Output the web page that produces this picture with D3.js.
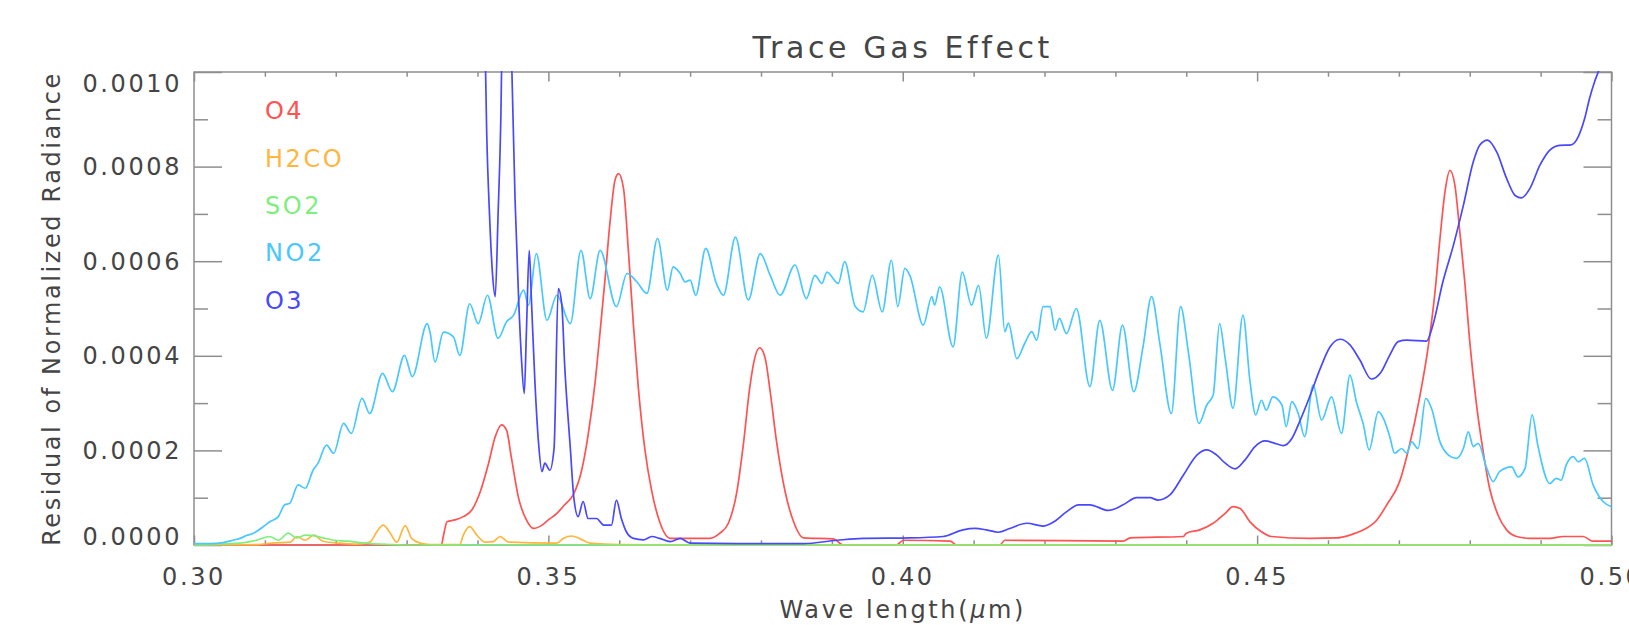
<!DOCTYPE html>
<html lang="en">
<head>
<meta charset="UTF-8">
<title>Trace Gas Effect</title>
<script src="https://cdn.jsdelivr.net/npm/d3@7"></script>
<style>
  html, body { margin: 0; padding: 0; background: #fff; }
  svg text { font-family: "DejaVu Sans", sans-serif; fill: #454545; }
</style>
</head>
<body>
<div id="chart"></div>
<script>
    // residual values are stored in units of 1e-4, wavelength in micrometres
    var xTicks = [0.30, 0.35, 0.40, 0.45, 0.50];
    var xTickLabels = ["0.30", "0.35", "0.40", "0.45", "0.50"];
    var yTicks = [0, 2, 4, 6, 8, 10];
    var yTickLabels = ["0.0000", "0.0002", "0.0004", "0.0006", "0.0008", "0.0010"];

    var gasNames = ["O4", "H2CO", "SO2", "NO2", "O3"];
    var gasColors = ["#ff5252", "#ffb63e", "#7def7d", "#48c8ff", "#4848ff"];

    var o4 = [
        [0.3000, 0], [0.3349, 0], [0.3352, 0.2], [0.3357, 0.49], [0.3368, 0.53], [0.3380, 0.6],
        [0.3392, 0.74], [0.3404, 1.13], [0.3415, 1.69], [0.3425, 2.29], [0.3434, 2.54], [0.3441, 2.43],
        [0.3448, 1.83], [0.3458, 0.99], [0.3469, 0.53], [0.3479, 0.35], [0.3491, 0.42], [0.3500, 0.53],
        [0.3512, 0.67], [0.3523, 0.85], [0.3535, 1.06], [0.3547, 1.58], [0.3556, 2.32], [0.3566, 3.45],
        [0.3573, 4.51], [0.3580, 5.63], [0.3587, 6.83], [0.3594, 7.71], [0.3599, 7.85], [0.3606, 7.54],
        [0.3613, 6.2], [0.3620, 4.65], [0.3627, 3.31], [0.3636, 2.04], [0.3646, 1.13], [0.3657, 0.49],
        [0.3672, 0.14], [0.3728, 0.14], [0.3742, 0.25], [0.3754, 0.46], [0.3766, 1.13], [0.3775, 2.11],
        [0.3784, 3.31], [0.3791, 3.94], [0.3798, 4.17], [0.3806, 3.94], [0.3813, 3.24], [0.3822, 2.18],
        [0.3834, 1.13], [0.3846, 0.49], [0.3860, 0.15], [0.3902, 0.13], [0.3916, 0], [0.3991, 0],
        [0.4001, 0.1], [0.4067, 0.08], [0.4076, 0], [0.4137, 0], [0.4144, 0.1], [0.4311, 0.08],
        [0.4321, 0.15], [0.4396, 0.18], [0.4400, 0.25], [0.4419, 0.32], [0.4438, 0.46], [0.4455, 0.67],
        [0.4466, 0.81], [0.4476, 0.77], [0.4490, 0.49], [0.4506, 0.28], [0.4520, 0.18], [0.4574, 0.14],
        [0.4612, 0.15], [0.4631, 0.21], [0.4650, 0.32], [0.4669, 0.53], [0.4683, 0.85], [0.4701, 1.34],
        [0.4715, 2.11], [0.4729, 3.1], [0.4741, 4.15], [0.4751, 5.35], [0.4758, 6.48], [0.4765, 7.46],
        [0.4772, 7.92], [0.4779, 7.61], [0.4786, 6.62], [0.4793, 5.56], [0.4800, 4.30], [0.4809, 3.03],
        [0.4819, 1.97], [0.4828, 1.2], [0.4840, 0.63], [0.4852, 0.32], [0.4866, 0.18], [0.4885, 0.14],
        [0.4913, 0.14], [0.4932, 0.18], [0.4960, 0.18], [0.4974, 0.08], [0.5000, 0.08]
    ];

    var h2co = [
        [0.3000, 0], [0.3090, 0.01], [0.3110, 0.04], [0.3136, 0.06], [0.3145, 0.18], [0.3157, 0.1],
        [0.3169, 0.21], [0.3182, 0.08], [0.3206, 0.04], [0.3230, 0.02], [0.3248, 0.06], [0.3258, 0.28],
        [0.3267, 0.42], [0.3277, 0.25], [0.3286, 0.06], [0.3298, 0.41], [0.3307, 0.14], [0.3319, 0.04],
        [0.3333, 0.01], [0.3375, 0.01], [0.3380, 0.21], [0.3389, 0.39], [0.3399, 0.21], [0.3411, 0.06],
        [0.3422, 0.07], [0.3432, 0.18], [0.3444, 0.06], [0.3512, 0.04], [0.3521, 0.14], [0.3533, 0.19],
        [0.3545, 0.13], [0.3559, 0.04], [0.3600, 0.01], [0.3700, 0], [0.5000, 0]
    ];

    var so2 = [
        [0.3000, 0], [0.3065, 0.04], [0.3088, 0.1], [0.3107, 0.18], [0.3119, 0.1], [0.3133, 0.25],
        [0.3145, 0.15], [0.3157, 0.21], [0.3169, 0.2], [0.3182, 0.15], [0.3197, 0.1], [0.3216, 0.08],
        [0.3239, 0.04], [0.3277, 0.01], [0.3300, 0], [0.5000, 0]
    ];

    var no2 = [
        [0.3000, 0.03], [0.3023, 0.03], [0.3041, 0.05], [0.3055, 0.1], [0.3065, 0.14], [0.3074, 0.2],
        [0.3084, 0.25], [0.3098, 0.39], [0.3107, 0.49], [0.3119, 0.6], [0.3128, 0.85], [0.3135, 0.88],
        [0.3147, 1.27], [0.3157, 1.2], [0.3168, 1.58], [0.3175, 1.73], [0.3187, 2.11], [0.3197, 1.94],
        [0.3211, 2.57], [0.3222, 2.36], [0.3237, 3.1], [0.3248, 2.78], [0.3266, 3.63], [0.3280, 3.24],
        [0.3297, 4.01], [0.3308, 3.56], [0.3329, 4.68], [0.3333, 4.5], [0.3340, 3.87], [0.3352, 4.5],
        [0.3366, 4.4], [0.3375, 4.01], [0.3389, 5.1], [0.3401, 4.68], [0.3414, 5.28], [0.3429, 4.37],
        [0.3441, 4.72], [0.3451, 4.86], [0.3465, 5.39], [0.3472, 5.07], [0.3483, 6.16], [0.3498, 4.75],
        [0.3512, 5.28], [0.3531, 4.68], [0.3546, 6.23], [0.3559, 5.21], [0.3573, 6.23], [0.3596, 5.04],
        [0.3611, 5.74], [0.3625, 5.56], [0.3639, 5.32], [0.3654, 6.48], [0.3668, 5.39], [0.3676, 5.88],
        [0.3686, 5.74], [0.3693, 5.56], [0.3700, 5.6], [0.3708, 5.28], [0.3722, 6.27], [0.3737, 5.53],
        [0.3747, 5.28], [0.3764, 6.51], [0.3782, 5.18], [0.3799, 6.16], [0.3813, 5.7], [0.3827, 5.28],
        [0.3848, 5.92], [0.3864, 5.21], [0.3876, 5.7], [0.3886, 5.53], [0.3893, 5.77], [0.3909, 5.53],
        [0.3918, 5.99], [0.3933, 5.04], [0.3944, 4.93], [0.3957, 5.7], [0.3971, 4.93], [0.3984, 6.02],
        [0.3993, 5.04], [0.4003, 5.85], [0.4010, 5.7], [0.4029, 4.65], [0.4041, 5.25], [0.4045, 5.07],
        [0.4052, 5.46], [0.4071, 4.19], [0.4084, 5.77], [0.4097, 5.07], [0.4107, 5.49], [0.4118, 4.37],
        [0.4135, 6.13], [0.4144, 4.51], [0.4149, 4.69], [0.4161, 3.94], [0.4172, 4.26], [0.4182, 4.51],
        [0.4189, 4.33], [0.4198, 5.04], [0.4208, 5.04], [0.4215, 4.54], [0.4221, 4.79], [0.4231, 4.47],
        [0.4245, 5.0], [0.4264, 3.35], [0.4278, 4.75], [0.4296, 3.27], [0.4310, 4.65], [0.4326, 3.24],
        [0.4339, 4.19], [0.4351, 5.25], [0.4363, 4.23], [0.4379, 2.78], [0.4392, 5.04], [0.4403, 4.08],
        [0.4418, 2.57], [0.4429, 2.96], [0.4438, 3.17], [0.4447, 4.68], [0.4455, 3.94], [0.4466, 2.89],
        [0.4480, 4.86], [0.4490, 3.45], [0.4498, 2.75], [0.4506, 3.06], [0.4513, 2.85], [0.4522, 3.13],
        [0.4535, 2.96], [0.4541, 2.5], [0.4549, 3.03], [0.4558, 2.78], [0.4567, 2.29], [0.4579, 3.38],
        [0.4591, 2.64], [0.4605, 3.13], [0.4619, 2.36], [0.4631, 3.59], [0.4640, 3.03], [0.4650, 2.54],
        [0.4658, 2.01], [0.4671, 2.82], [0.4678, 2.68], [0.4687, 2.3], [0.4694, 1.94], [0.4704, 2.04],
        [0.4711, 1.94], [0.4718, 2.18], [0.4727, 2.04], [0.4738, 3.1], [0.4746, 2.89], [0.4758, 2.18],
        [0.4770, 1.9], [0.4781, 1.83], [0.4791, 2.04], [0.4798, 2.39], [0.4805, 2.08], [0.4812, 2.15],
        [0.4824, 1.62], [0.4833, 1.34], [0.4842, 1.55], [0.4859, 1.65], [0.4868, 1.44], [0.4878, 1.62],
        [0.4888, 2.75], [0.4896, 2.11], [0.4913, 1.3], [0.4922, 1.41], [0.4929, 1.37], [0.4936, 1.69],
        [0.4946, 1.87], [0.4953, 1.76], [0.4962, 1.83], [0.4974, 1.27], [0.4988, 0.92], [0.5000, 0.81]
    ];

    // O3 is far above the plotted range below 0.341 um and gets clipped
    var o3 = [
        [0.3000, 30], [0.3400, 30], [0.3409, 12], [0.3413, 8.7], [0.3417, 6.97], [0.3421, 5.77],
        [0.3425, 5.25], [0.3429, 6.97], [0.3433, 9.08], [0.3436, 12], [0.3442, 14], [0.3447, 11],
        [0.3453, 7.3], [0.3458, 5.21], [0.3462, 3.94], [0.3466, 3.2], [0.3469, 4.5], [0.3473, 6.23],
        [0.3476, 5.21], [0.3481, 3.45], [0.3486, 2.18], [0.3491, 1.55], [0.3495, 1.73], [0.3502, 1.58],
        [0.3508, 2.04], [0.3514, 5.42], [0.3519, 5.07], [0.3523, 3.8], [0.3531, 2.04], [0.3536, 0.99],
        [0.3542, 0.6], [0.3549, 0.92], [0.3556, 0.56], [0.3568, 0.56], [0.3578, 0.42], [0.3589, 0.42],
        [0.3596, 0.95], [0.3603, 0.56], [0.3610, 0.28], [0.3620, 0.14], [0.3634, 0.11], [0.3646, 0.18],
        [0.3657, 0.14], [0.3672, 0.07], [0.3686, 0.14], [0.3700, 0.04], [0.3766, 0.03], [0.3860, 0.03],
        [0.3907, 0.1], [0.3944, 0.14], [0.4010, 0.15], [0.4057, 0.18], [0.4085, 0.32], [0.4102, 0.35],
        [0.4118, 0.32], [0.4135, 0.27], [0.4151, 0.35], [0.4175, 0.46], [0.4198, 0.4], [0.4212, 0.48],
        [0.4231, 0.7], [0.4248, 0.85], [0.4264, 0.85], [0.4290, 0.73], [0.4311, 0.85], [0.4330, 1.0],
        [0.4349, 1.0], [0.4360, 0.95], [0.4377, 1.06], [0.4396, 1.48], [0.4415, 1.9], [0.4429, 2.01],
        [0.4443, 1.9], [0.4455, 1.73], [0.4469, 1.61], [0.4483, 1.8], [0.4497, 2.08], [0.4511, 2.2],
        [0.4525, 2.15], [0.4537, 2.1], [0.4549, 2.25], [0.4560, 2.61], [0.4574, 3.13], [0.4589, 3.73],
        [0.4603, 4.19], [0.4617, 4.35], [0.4631, 4.23], [0.4645, 3.91], [0.4661, 3.51], [0.4675, 3.66],
        [0.4687, 4.01], [0.4699, 4.3], [0.4711, 4.33], [0.4739, 4.31], [0.4748, 4.65], [0.4762, 5.56],
        [0.4777, 6.34], [0.4791, 7.18], [0.4805, 8.1], [0.4814, 8.45], [0.4825, 8.56], [0.4838, 8.31],
        [0.4852, 7.75], [0.4864, 7.39], [0.4873, 7.34], [0.4885, 7.54], [0.4899, 8.03], [0.4913, 8.35],
        [0.4927, 8.45], [0.4943, 8.46], [0.4953, 8.63], [0.4962, 9.01], [0.4969, 9.44], [0.4976, 9.79],
        [0.4983, 10.07], [0.5000, 11]
    ];

    var series = [o4, h2co, so2, no2, o3];

    // -------- LAYOUT --------
    var svgWidth = 1629, svgHeight = 625;
    var plotLeft = 194, plotRight = 1611.5, plotTop = 72, plotBottom = 545;

    var svg = d3.select("#chart")
        .append("svg")
        .attr("width", svgWidth)
        .attr("height", svgHeight);

    var x = d3.scaleLinear()
        .domain([0.30, 0.50])
        .range([plotLeft, plotRight]);
    var y = d3.scaleLinear()
        .domain([0, 10])
        .range([plotBottom, plotTop]);

    // clip a hair outside the box so lines sitting on zero stay visible
    svg.append("defs").append("clipPath")
        .attr("id", "plot-clip")
        .append("rect")
        .attr("x", plotLeft)
        .attr("y", plotTop - 1)
        .attr("width", plotRight - plotLeft)
        .attr("height", plotBottom - plotTop + 2);

    // -------- AXES (IDL style box, ticks inside) --------
    var axisColor = "#8e8e8e";
    var minorX = d3.range(0.30, 0.5001, 0.01).filter(function (v) {
        return Math.abs(Math.round(v * 20) - v * 20) > 1e-6;
    });
    var minorY = [1, 3, 5, 7, 9];

    function styleAxis(g) {
        g.select(".domain").remove();
        g.selectAll(".tick line").attr("stroke", axisColor).attr("stroke-width", 1.5);
        g.selectAll(".tick text").remove();
    }

    svg.append("rect")
        .attr("x", plotLeft)
        .attr("y", plotTop)
        .attr("width", plotRight - plotLeft)
        .attr("height", plotBottom - plotTop)
        .attr("fill", "none")
        .attr("stroke", axisColor)
        .attr("stroke-width", 1.5);

    svg.append("g").attr("transform", "translate(0," + plotBottom + ")")
        .call(d3.axisTop(x).tickValues(xTicks).tickSize(9.5)).call(styleAxis);
    svg.append("g").attr("transform", "translate(0," + plotBottom + ")")
        .call(d3.axisTop(x).tickValues(minorX).tickSize(4.7)).call(styleAxis);
    svg.append("g").attr("transform", "translate(0," + plotTop + ")")
        .call(d3.axisBottom(x).tickValues(xTicks).tickSize(9.5)).call(styleAxis);
    svg.append("g").attr("transform", "translate(0," + plotTop + ")")
        .call(d3.axisBottom(x).tickValues(minorX).tickSize(4.7)).call(styleAxis);

    svg.append("g").attr("transform", "translate(" + plotLeft + ",0)")
        .call(d3.axisRight(y).tickValues(yTicks).tickSize(28)).call(styleAxis);
    svg.append("g").attr("transform", "translate(" + plotLeft + ",0)")
        .call(d3.axisRight(y).tickValues(minorY).tickSize(14)).call(styleAxis);
    svg.append("g").attr("transform", "translate(" + plotRight + ",0)")
        .call(d3.axisLeft(y).tickValues(yTicks).tickSize(28)).call(styleAxis);
    svg.append("g").attr("transform", "translate(" + plotRight + ",0)")
        .call(d3.axisLeft(y).tickValues(minorY).tickSize(14)).call(styleAxis);

    // -------- CURVES (over the axes, like oplot) --------
    var line = d3.line()
        .x(function (d) { return x(d[0]); })
        .y(function (d) { return y(d[1]); })
        .curve(d3.curveMonotoneX);

    svg.append("g")
        .attr("clip-path", "url(#plot-clip)")
        .selectAll("path")
        .data(series)
        .enter()
        .append("path")
        .attr("d", line)
        .attr("fill", "none")
        .attr("stroke", function (d, i) { return gasColors[i]; })
        .attr("stroke-width", 1.7)
        .attr("stroke-linejoin", "round");

    // -------- TICK LABELS --------
    svg.selectAll(".xlabel")
        .data(xTicks)
        .enter()
        .append("text")
        .attr("class", "xlabel")
        .attr("x", function (d) { return x(d); })
        .attr("y", 585)
        .attr("text-anchor", "middle")
        .attr("font-size", "24px")
        .attr("letter-spacing", "2.6px")
        .text(function (d, i) { return xTickLabels[i]; });

    svg.selectAll(".ylabel")
        .data(yTicks)
        .enter()
        .append("text")
        .attr("class", "ylabel")
        .attr("x", 182)
        .attr("y", function (d) {
            // end labels are pulled inside the box
            var c = y(d);
            if (d === 10) c += 11;
            if (d === 0) c -= 9;
            return c + 8.5;
        })
        .attr("text-anchor", "end")
        .attr("font-size", "24px")
        .attr("letter-spacing", "2.6px")
        .text(function (d, i) { return yTickLabels[i]; });

    // -------- TITLES --------
    svg.append("text")
        .attr("x", (plotLeft + plotRight) / 2)
        .attr("y", 58)
        .attr("text-anchor", "middle")
        .attr("font-size", "30px")
        .attr("letter-spacing", "3.6px")
        .text("Trace Gas Effect");

    var xTitle = svg.append("text")
        .attr("x", (plotLeft + plotRight) / 2)
        .attr("y", 618)
        .attr("text-anchor", "middle")
        .attr("font-size", "24px")
        .attr("letter-spacing", "2.6px");
    xTitle.append("tspan").text("Wave length(");
    xTitle.append("tspan").attr("font-style", "italic").text("\u03bc");
    xTitle.append("tspan").text("m)");

    svg.append("text")
        .attr("transform", "translate(60," + ((plotTop + plotBottom) / 2) + ") rotate(-90)")
        .attr("text-anchor", "middle")
        .attr("font-size", "24px")
        .attr("letter-spacing", "2.6px")
        .text("Residual of Normalized Radiance");

    // -------- LEGEND (placed in data coordinates) --------
    svg.selectAll(".legend")
        .data(gasNames)
        .enter()
        .append("text")
        .attr("class", "legend")
        .attr("x", x(0.31))
        .attr("y", function (d, i) { return y(9 - i); })
        .attr("font-size", "24px")
        .attr("letter-spacing", "2.6px")
        .style("fill", function (d, i) { return gasColors[i]; })
        .text(function (d) { return d; });
</script>
</body>
</html>
